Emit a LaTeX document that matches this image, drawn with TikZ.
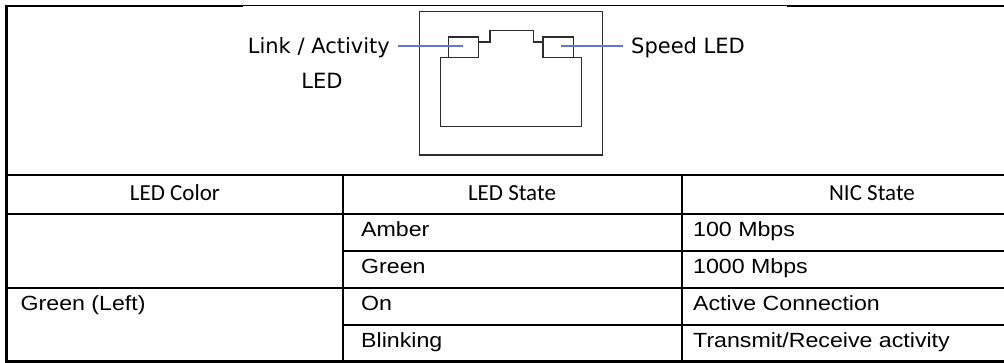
\documentclass[tikz,border=0pt]{standalone}
\usepackage{fontspec}
\newfontfamily\verdfont{DejaVu Sans}
\newfontfamily\headfont{Carlito}
\newfontfamily\cellfont[FakeStretch=1.13]{Liberation Sans}
\usetikzlibrary{positioning}
\definecolor{leadblue}{RGB}{98,118,214}
\definecolor{jackgray}{RGB}{45,45,45}

\begin{document}
\begin{tikzpicture}[x=1pt, y=-1pt,
  lbl/.style={inner xsep=8pt, inner ysep=0pt, font=\verdfont\fontsize{21}{25}\selectfont},
  hdr/.style={anchor=base, inner sep=0pt, font=\headfont\fontsize{23}{27}\selectfont},
  cell/.style={anchor=base west, inner sep=0pt, font=\cellfont\fontsize{20.5}{24}\selectfont},
  jack/.style={draw=jackgray, line width=1.2pt},
  lead/.style={draw=leadblue, line width=1.4pt},
  grid/.style={line width=2.2pt}]
\useasboundingbox (0,0) rectangle (1004,363);

\draw[jack] (419.3,11.7) rectangle (602.3,155);
\draw[jack] (448.3,57.7) -| (440.3,126.3) -| (581.3,57.7) -- (573.3,57.7);
\draw[jack] (448.3,37) rectangle (478.7,57.7);
\draw[jack] (543,37) rectangle (573.3,57.7);
\draw[jack] (478.7,42) -| (490,30.7) -| (533.3,42) -- (543,42);
\coordinate (lnkled) at (462.7,46);
\coordinate (spdled) at (561,46);

\node[lbl, anchor=base east] (lnk) at (398,54) {Link / Activity};
\node[lbl, anchor=base] (lnkb) at (322,89) {LED};
\node[lbl, anchor=base west] (spd) at (623,53.5) {Speed LED};
\draw[lead] (lnk.east |- lnkled) -- (lnkled);
\draw[lead] (spd.west |- spdled) -- (spdled);

\draw[line width=1.3pt] (243,5.8) -- (787,5.8);
\draw[grid] (6.5,5.8) -- (243,5.8) (787,5.8) -- (1004,5.8);
\draw[grid] (6.5,4.7) -- (6.5,362.6);
\foreach \y in {175,214,288,361.5}
  \draw[grid] (6.5,\y) -- (1004,\y);
\foreach \y in {251,325}
  \draw[grid] (343,\y) -- (1004,\y);
\draw[grid] (343,175) -- (343,362.6) (682,175) -- (682,362.6);

\node[hdr] (h1) at (175,200.7) {LED Color};
\node[hdr] (h2) at (512,200.7) {LED State};
\node[hdr] (h3) at (872,200.7) {NIC State};

\node[cell] (a2) at (361,236.7) {Amber};
\node[cell] (a3) at (693,236.7) {100 Mbps};
\node[cell] (b2) at (361,273.7) {Green};
\node[cell] (b3) at (693,273.7) {1000 Mbps};
\node[cell] (c1) at (20.5,310.7) {Green (Left)};
\node[cell] (c2) at (361,310.7) {On};
\node[cell] (c3) at (693,310.7) {Active Connection};
\node[cell] (d2) at (361,347.7) {Blinking};
\node[cell] (d3) at (693,347.7) {Transmit/Receive activity};
\end{tikzpicture}
\end{document}
